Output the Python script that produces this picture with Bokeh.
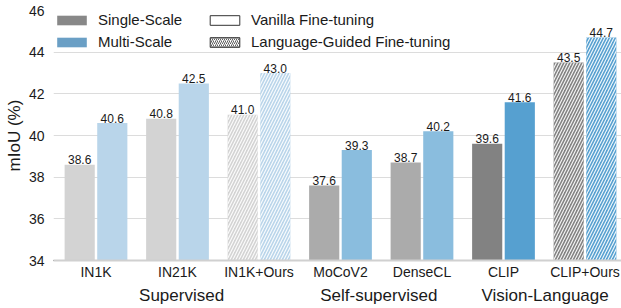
from bokeh.plotting import figure
from bokeh.models import (Range1d, FixedTicker, LinearAxis, Legend, LegendItem,
                          ColumnDataSource)
from bokeh.core.properties import value
from bokeh.embed import file_html
from bokeh.resources import INLINE

# ---------------- data ----------------
models = ["IN1K", "IN21K", "IN1K+Ours", "MoCoV2", "DenseCL", "CLIP", "CLIP+Ours"]
single_scale = [38.6, 40.8, 41.0, 37.6, 38.7, 39.6, 43.5]
multi_scale = [40.6, 42.5, 43.0, 39.3, 40.2, 41.6, 44.7]
language_guided = [False, False, True, False, False, False, True]
families = ["Supervised", "Supervised", "Supervised",
            "Self-supervised", "Self-supervised",
            "Vision-Language", "Vision-Language"]
groups = ["Supervised", "Self-supervised", "Vision-Language"]
y_ticks = [34, 36, 38, 40, 42, 44, 46]

# ---------------- styles ----------------
FONT = "Liberation Sans"
TXT = "#1a1a1a"
single_color = {"Supervised": "#d3d3d3", "Self-supervised": "#ababab", "Vision-Language": "#828282"}
multi_color = {"Supervised": "#b9d5ea", "Self-supervised": "#8abdde", "Vision-Language": "#56a0d0"}
group_label_pos = [1.05, 3.47, 5.51]
OFF = 0.2
BW = 0.37

p = figure(width=621, height=308, output_backend="svg", toolbar_location=None,
           x_range=Range1d(-0.5215, 6.448), y_range=Range1d(34, 46),
           min_border=0, min_border_left=53, min_border_right=0, min_border_top=10,
           min_border_bottom=48)
p.outline_line_color = None
p.background_fill_color = "white"
p.xgrid.grid_line_color = None
p.ygrid.grid_line_color = "#dcdcdc"
p.ygrid.grid_line_width = 1
p.ygrid.ticker = FixedTicker(ticks=y_ticks)

idx = list(range(len(models)))

def rows(hatched):
    sel = [i for i in idx if language_guided[i] == hatched]
    xs, tops, cols, labs = [], [], [], []
    for i in sel:
        xs.append(i - OFF); tops.append(single_scale[i]); cols.append(single_color[families[i]])
        labs.append(f"{single_scale[i]:.1f}")
        xs.append(i + OFF); tops.append(multi_scale[i]); cols.append(multi_color[families[i]])
        labs.append(f"{multi_scale[i]:.1f}")
    return ColumnDataSource(dict(x=xs, top=tops, color=cols, label=labs))

src_plain = rows(False)
src_hatch = rows(True)

p.vbar(x="x", top="top", bottom=34, width=BW, source=src_plain,
       fill_color="color", line_color=None)
p.vbar(x="x", top="top", bottom=34, width=BW, source=src_hatch,
       fill_color="color", line_color=None, hatch_pattern="/",
       hatch_color="white", hatch_scale=6, hatch_weight=1.2, hatch_alpha=0.9)

for src in (src_plain, src_hatch):
    p.text(x="x", y="top", text="label", source=src, text_align="center",
           text_baseline="alphabetic", y_offset=-5,
           text_font=value(FONT), text_font_size="12px", text_color=TXT)

# ---------------- axes ----------------
def strip_ticks(ax):
    ax.major_tick_line_color = None
    ax.minor_tick_line_color = None
    ax.major_tick_out = 0
    ax.major_tick_in = 0
    ax.minor_tick_out = 0
    ax.minor_tick_in = 0

p.yaxis.ticker = FixedTicker(ticks=y_ticks)
p.yaxis.axis_line_color = None
strip_ticks(p.yaxis[0])
p.yaxis.major_label_text_font = FONT
p.yaxis.major_label_text_font_size = "14px"
p.yaxis.major_label_text_color = TXT
p.yaxis.major_label_standoff = 9
p.yaxis.axis_label = "mIoU (%)"
p.yaxis.axis_label_text_font = FONT
p.yaxis.axis_label_text_font_size = "17px"
p.yaxis.axis_label_text_font_style = "normal"
p.yaxis.axis_label_text_color = TXT
p.yaxis.axis_label_standoff = 2

p.xaxis.ticker = FixedTicker(ticks=idx)
p.xaxis.major_label_overrides = {i: m for i, m in zip(idx, models)}
p.xaxis.axis_line_color = "#d0d0d0"
p.xaxis.axis_line_width = 2
strip_ticks(p.xaxis[0])
p.xaxis.major_label_text_font = FONT
p.xaxis.major_label_text_font_size = "14px"
p.xaxis.major_label_text_color = TXT
p.xaxis.major_label_standoff = 3

gax = LinearAxis(ticker=FixedTicker(ticks=group_label_pos),
                 major_label_overrides={pos: g for pos, g in zip(group_label_pos, groups)})
gax.axis_line_color = None
strip_ticks(gax)
gax.major_label_text_font = FONT
gax.major_label_text_font_size = "17px"
gax.major_label_text_color = TXT
gax.major_label_standoff = 3
p.add_layout(gax, "below")

# ---------------- legend (proxy renderers kept outside the visible area) ----------------
r_single = p.vbar(x=[-10], top=[20], bottom=19, width=0.1, fill_color="#888888", line_color=None)
r_multi = p.vbar(x=[-10], top=[20], bottom=19, width=0.1, fill_color="#6a9fc5", line_color=None)
r_vanilla = p.vbar(x=[-10], top=[20], bottom=19, width=0.1, fill_color="white",
                   line_color="#333333", line_width=1)
r_lang = p.vbar(x=[-10], top=[20], bottom=19, width=0.1, fill_color="white",
                line_color="#333333", line_width=1,
                hatch_pattern="/", hatch_color="#333333", hatch_scale=4, hatch_weight=0.8)

def make_legend(items, loc):
    return Legend(items=items, location=loc, padding=0, margin=0, spacing=5,
                  glyph_width=37, glyph_height=12, label_height=17, label_standoff=8,
                  label_text_font=FONT, label_text_font_size="15px", label_text_color=TXT,
                  background_fill_alpha=0, border_line_color=None)

leg1 = make_legend([LegendItem(label="Single-Scale", renderers=[r_single]),
                    LegendItem(label="Multi-Scale", renderers=[r_multi])], (0, 210))
leg2 = make_legend([LegendItem(label="Vanilla Fine-tuning", renderers=[r_vanilla]),
                    LegendItem(label="Language-Guided Fine-tuning", renderers=[r_lang])], (153, 210))
p.add_layout(leg1, "center")
p.add_layout(leg2, "center")

open("out.html", "w").write(file_html(p, INLINE))
